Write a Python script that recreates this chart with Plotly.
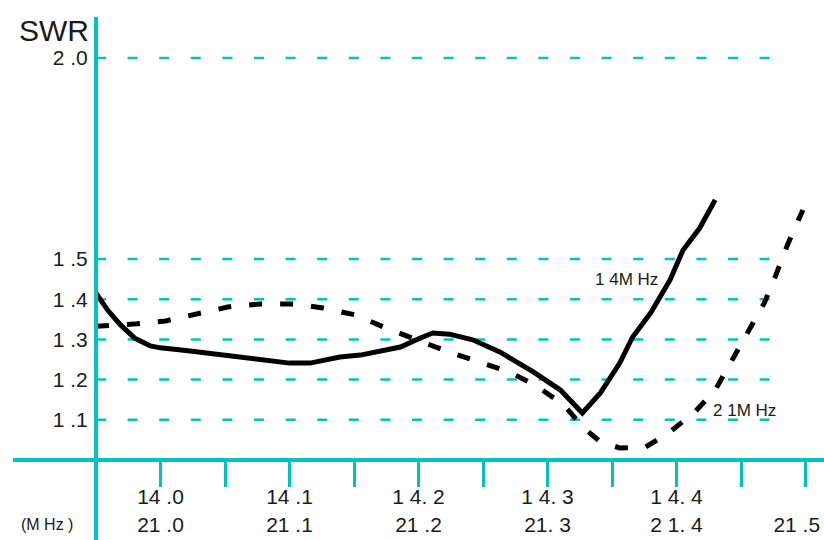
import plotly.graph_objects as go

# ---- data ----
f14 = [13.950, 13.959, 13.969, 13.980, 13.992, 14.000, 14.023, 14.054, 14.077, 14.100,
       14.116, 14.139, 14.155, 14.186, 14.201, 14.211, 14.224, 14.242, 14.263, 14.289,
       14.310, 14.327, 14.341, 14.356, 14.366, 14.380, 14.395, 14.405, 14.418, 14.430]
swr14 = [1.415, 1.373, 1.336, 1.303, 1.284, 1.279, 1.271, 1.259, 1.249, 1.241,
         1.241, 1.256, 1.261, 1.281, 1.303, 1.316, 1.313, 1.299, 1.269, 1.219,
         1.174, 1.117, 1.167, 1.241, 1.306, 1.366, 1.448, 1.522, 1.577, 1.647]

f21 = [20.950, 20.979, 21.004, 21.027, 21.053, 21.077, 21.104, 21.126, 21.151, 21.175,
       21.196, 21.219, 21.242, 21.269, 21.289, 21.312, 21.328, 21.341, 21.356, 21.376,
       21.395, 21.414, 21.430, 21.444, 21.457, 21.468, 21.477, 21.486, 21.498]
swr21 = [1.333, 1.338, 1.346, 1.363, 1.381, 1.388, 1.388, 1.378, 1.361, 1.328,
         1.301, 1.274, 1.249, 1.221, 1.189, 1.139, 1.080, 1.045, 1.030, 1.032,
         1.070, 1.119, 1.174, 1.254, 1.323, 1.390, 1.460, 1.535, 1.622]

x_tick_vals = [14.00, 14.05, 14.10, 14.15, 14.20, 14.25, 14.30, 14.35, 14.40, 14.45, 14.50]
x_tick_text = ["14 .0<br>21 .0", "", "14 .1<br>21 .1", "", "1 4. 2<br>21 .2", "",
               "1 4. 3<br>21. 3", "", "1 4. 4<br>2 1. 4", "",
               "&nbsp;<br>21 .5&nbsp;&nbsp;&nbsp;"]
y_tick_vals = [1.1, 1.2, 1.3, 1.4, 1.5, 2.0]
y_tick_text = ["1 .1", "1 .2", "1 .3", "1 .4", "1 .5", "2 .0"]

label14 = "1 4M Hz"
label21 = "2 1M Hz"

# ---- style ----
W, H = 824, 540
CYAN = "#00C2C2"
INK = "#1a1a1a"
FONT = "Liberation Sans, Arial, sans-serif"

# pixel geometry
px_per_unit_x = 1290.0      # px per MHz
x_origin_px, x_origin_f = 96, 13.95
y0_px, px_per_unit_y = 460, 402.0
xr = [x_origin_f - (x_origin_px - 13) / px_per_unit_x, x_origin_f + (W - x_origin_px) / px_per_unit_x]
yr = [1 - (H - y0_px) / px_per_unit_y, 1 + (y0_px - 17) / px_per_unit_y]

fig = go.Figure()
fig.add_trace(go.Scatter(x=f14, y=swr14, mode="lines",
                         line=dict(color="black", width=5), xaxis="x", yaxis="y",
                         showlegend=False, hoverinfo="skip"))
fig.add_trace(go.Scatter(x=f21, y=swr21, mode="lines",
                         line=dict(color="black", width=5, dash="13px,18px"),
                         xaxis="x2", yaxis="y", showlegend=False, hoverinfo="skip"))

grid_end = x_origin_f + (785 - x_origin_px) / px_per_unit_x
for v in y_tick_vals:
    fig.add_shape(type="line", xref="x", yref="y", x0=x_origin_f, x1=grid_end, y0=v, y1=v,
                  line=dict(color=CYAN, width=2.5, dash="10px,21.6px"), layer="below")

fig.update_layout(
    width=W, height=H,
    margin=dict(l=0, r=0, t=0, b=0),
    paper_bgcolor="white", plot_bgcolor="white",
    font=dict(family=FONT, color=INK),
    xaxis=dict(range=xr, domain=[13 / W, 1], anchor="free", position=(H - y0_px) / H,
               showline=True, linecolor=CYAN, linewidth=4,
               ticks="outside", ticklen=25, tickwidth=3, tickcolor=CYAN,
               tickvals=x_tick_vals, ticktext=x_tick_text,
               tickfont=dict(size=21, family=FONT, color=INK),
               ticklabelstandoff=-8, ticklabeloverflow="allow",
               showgrid=False, zeroline=False, automargin=False, fixedrange=True),
    xaxis2=dict(range=[xr[0] + 7, xr[1] + 7], domain=[13 / W, 1], anchor="free",
                position=(H - y0_px) / H, overlaying="x", visible=False,
                automargin=False, fixedrange=True),
    yaxis=dict(range=yr, domain=[0, (H - 17) / H], anchor="free", position=x_origin_px / W,
               showline=True, linecolor=CYAN, linewidth=4,
               ticks="", tickvals=y_tick_vals, ticktext=y_tick_text,
               tickfont=dict(size=21, family=FONT, color=INK),
               ticklabelstandoff=2,
               showgrid=False, zeroline=False, automargin=False, fixedrange=True),
    annotations=[
        dict(text="SWR", xref="paper", yref="paper", x=17 / W, y=(H - 30) / H,
             xanchor="left", yanchor="middle", showarrow=False,
             font=dict(size=30, family=FONT, color=INK)),
        dict(text="(M Hz )", xref="paper", yref="paper", x=47 / W, y=(H - 524) / H,
             xanchor="center", yanchor="middle", showarrow=False,
             font=dict(size=16, family=FONT, color=INK)),
        dict(text=label14, xref="x", yref="y", x=14.361, y=1.448,
             xanchor="center", yanchor="middle", showarrow=False,
             font=dict(size=17, family=FONT, color=INK)),
        dict(text=label21, xref="x2", yref="y", x=21.453, y=1.124,
             xanchor="center", yanchor="middle", showarrow=False,
             font=dict(size=17, family=FONT, color=INK)),
    ],
)

fig.write_html("out.html", config={"displayModeBar": False},
               post_script="document.body.style.margin='0';document.body.style.overflow='hidden';")
